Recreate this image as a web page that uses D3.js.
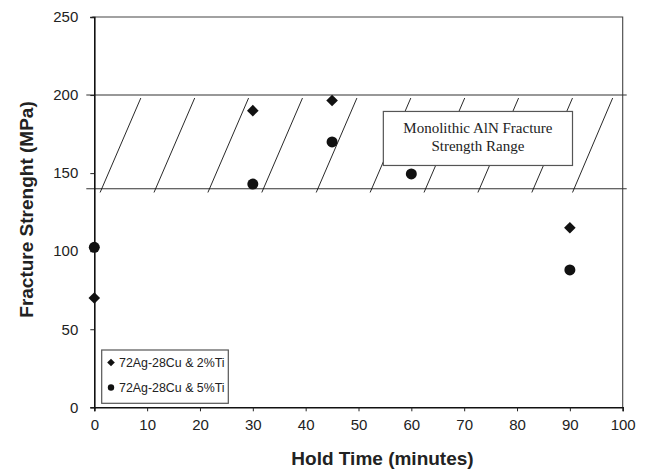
<!DOCTYPE html>
<html>
<head>
<meta charset="utf-8">
<script src="https://cdn.jsdelivr.net/npm/d3@7"></script>
<style>
  html, body { margin: 0; padding: 0; background: #fff; }
  svg { display: block; }
</style>
</head>
<body>
<script>
// Hold time (minutes) and fracture strength (MPa) for the two braze alloys
const holdTime2Ti = [0, 30, 45, 90];
const strength2Ti = [70, 190, 196.5, 115];
const holdTime5Ti = [0, 30, 45, 60, 90];
const strength5Ti = [102.5, 143, 170, 149.5, 88];

const seriesNames = ["72Ag-28Cu & 2%Ti", "72Ag-28Cu & 5%Ti"];

const xTicks = [0, 10, 20, 30, 40, 50, 60, 70, 80, 90, 100];
const yTicks = [0, 50, 100, 150, 200, 250];

// Monolithic AlN strength band (MPa) and its hatching (minutes, lower end -> upper end)
const bandLimits = [140, 200];
const hatchLow = [1.1, 11.3, 21.5, 31.7, 42.0, 52.2, 62.4, 72.6, 82.8, 90.5];
const hatchHigh = [8.8, 19.0, 29.2, 39.4, 49.7, 59.9, 70.1, 80.3, 90.5, 98.1];
const hatchSpan = [137.6, 198.1];
const bandLabel = ["Monolithic AlN Fracture", "Strength Range"];
const bandBox = { x: [54.7, 90.5], y: [154.9, 189.5] };

const W = 651, H = 470;
const plotLeft = 94.3, plotRight = 622.7, plotTop = 17, plotBottom = 407.3;

const x = d3.scaleLinear().domain([0, 100]).range([plotLeft, plotRight]);
const y = d3.scaleLinear().domain([0, 250]).range([plotBottom, plotTop]);

const svg = d3.select("body").append("svg")
  .attr("width", W).attr("height", H)
  .attr("font-family", "'Liberation Sans', Arial, sans-serif");

// top and right frame
svg.append("path")
  .attr("d", `M${x(0) - 2},${y(250)}H${x(100)}V${y(0)}`)
  .attr("fill", "none").attr("stroke", "#444").attr("stroke-width", 1.1);

// band boundaries
svg.append("g").selectAll("line").data(bandLimits).join("line")
  .attr("x1", x(0) - 8).attr("x2", x(100) + 4)
  .attr("y1", d => y(d)).attr("y2", d => y(d))
  .attr("stroke", "#333").attr("stroke-width", 1.1);

// hatching
svg.append("g").selectAll("line").data(hatchLow).join("line")
  .attr("x1", d => x(d)).attr("y1", y(hatchSpan[0]))
  .attr("x2", (d, i) => x(hatchHigh[i])).attr("y2", y(hatchSpan[1]))
  .attr("stroke", "#111").attr("stroke-width", 0.9);

// label box over the hatching
svg.append("rect")
  .attr("x", x(bandBox.x[0])).attr("y", y(bandBox.y[1]))
  .attr("width", x(bandBox.x[1]) - x(bandBox.x[0]))
  .attr("height", y(bandBox.y[0]) - y(bandBox.y[1]))
  .attr("fill", "#fff").attr("stroke", "#555").attr("stroke-width", 1.2);

svg.append("g").selectAll("text").data(bandLabel).join("text")
  .attr("x", (x(bandBox.x[0]) + x(bandBox.x[1])) / 2)
  .attr("y", (d, i) => 133 + i * 17.5)
  .attr("text-anchor", "middle")
  .attr("font-family", "'Liberation Serif', 'Times New Roman', serif")
  .attr("font-size", 15).attr("fill", "#222")
  .text(d => d);

// axes
const xAxis = svg.append("g").attr("transform", `translate(0,${plotBottom})`)
  .call(d3.axisBottom(x).tickValues(xTicks).tickSize(4).tickPadding(8).tickFormat(d3.format("d")));
const yAxis = svg.append("g").attr("transform", `translate(${plotLeft},0)`)
  .call(d3.axisLeft(y).tickValues(yTicks).tickSize(4).tickPadding(12).tickFormat(d3.format("d")));

[xAxis, yAxis].forEach(g => {
  g.select(".domain").attr("stroke", "#111").attr("stroke-width", 1.6);
  g.selectAll(".tick line").attr("stroke", "#222").attr("stroke-width", 1);
  g.selectAll(".tick text").attr("font-size", 15).attr("fill", "#222")
    .attr("font-family", "'Liberation Sans', Arial, sans-serif");
});

// markers
const diamond = s => `M0,${-s}L${s},0L0,${s}L${-s},0Z`;

svg.append("g").selectAll("path").data(holdTime2Ti).join("path")
  .attr("transform", (d, i) => `translate(${x(d)},${y(strength2Ti[i])})`)
  .attr("d", diamond(5.8)).attr("fill", "#111");

svg.append("g").selectAll("circle").data(holdTime5Ti).join("circle")
  .attr("cx", d => x(d)).attr("cy", (d, i) => y(strength5Ti[i]))
  .attr("r", 5.5).attr("fill", "#111");

// legend
const lg = svg.append("g");
lg.append("rect").attr("x", 101.7).attr("y", 350).attr("width", 126.6).attr("height", 53.3)
  .attr("fill", "#fff").attr("stroke", "#555").attr("stroke-width", 1.2);
const rows = lg.selectAll("g.row").data(seriesNames).join("g")
  .attr("class", "row")
  .attr("transform", (d, i) => `translate(111,${362.5 + i * 25})`);
rows.each(function (d, i) {
  const r = d3.select(this);
  if (i === 0) r.append("path").attr("d", diamond(3.8)).attr("fill", "#111");
  else r.append("circle").attr("r", 3.2).attr("fill", "#111");
  r.append("text").attr("x", 8).attr("dy", "0.35em")
    .attr("font-size", 12.4).attr("fill", "#222").text(d);
});

// axis titles
svg.append("text")
  .attr("x", 382.5).attr("y", 465)
  .attr("text-anchor", "middle").attr("font-weight", "bold")
  .attr("font-size", 19).attr("fill", "#222")
  .text("Hold Time (minutes)");

svg.append("text")
  .attr("transform", `translate(33,209.5) rotate(-90)`)
  .attr("text-anchor", "middle").attr("font-weight", "bold")
  .attr("font-size", 19).attr("fill", "#222")
  .text("Fracture Strenght (MPa)");
</script>
</body>
</html>
